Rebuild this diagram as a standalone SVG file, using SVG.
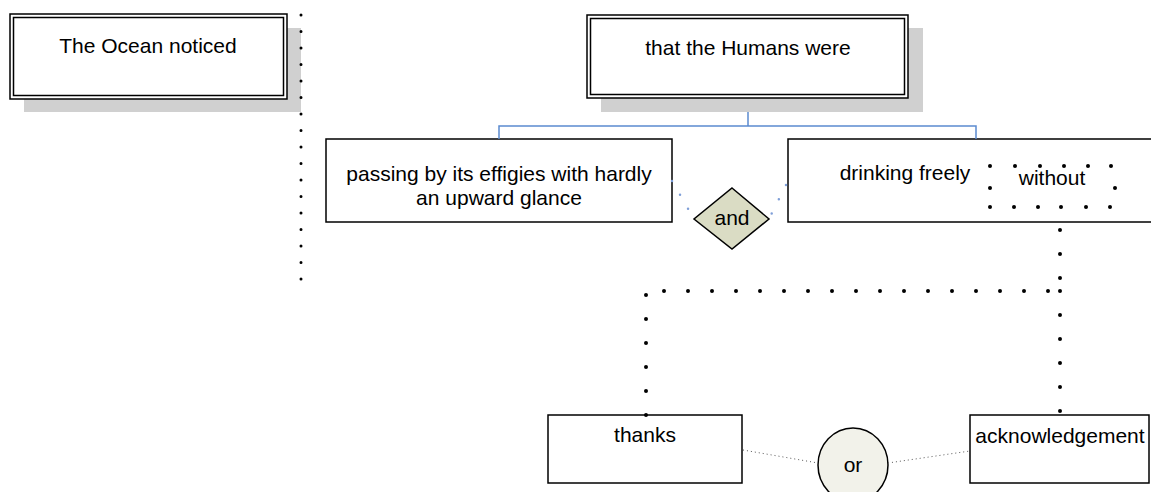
<svg xmlns="http://www.w3.org/2000/svg" width="1151" height="492" viewBox="0 0 1151 492">
<style>
text{font-family:"Liberation Sans",Arial,sans-serif;font-size:21px;fill:#000;text-anchor:middle}
.shadow{fill:#d0d0d0}
.box{fill:#fff;stroke:#000;stroke-width:1.5}
.inner{fill:none;stroke:#000;stroke-width:1.5}
.blue{fill:none;stroke:#5b8bd0;stroke-width:1.5}
.bdots{fill:none;stroke:#7f9fd8;stroke-width:2.5;stroke-linecap:round;stroke-dasharray:0 16}
.kdots{fill:none;stroke:#000;stroke-width:4;stroke-linecap:round;stroke-dasharray:0 24}
.sdots{fill:none;stroke:#000;stroke-width:3;stroke-linecap:round;stroke-dasharray:0 16.5}
.gdots{fill:none;stroke:#555;stroke-width:1;stroke-dasharray:1 3}
.dot{fill:#000}
</style>
<g id="n-ocean">
<rect class="shadow" x="24" y="28" width="277" height="84"/>
<rect class="box" x="10" y="14" width="277" height="85"/>
<rect class="inner" x="13.5" y="17.5" width="270" height="78"/>
<text x="148" y="53">The Ocean noticed</text>
</g>
<g id="n-humans">
<rect class="shadow" x="601" y="28" width="322" height="84"/>
<rect class="box" x="587" y="15" width="321" height="83"/>
<rect class="inner" x="590.5" y="18.5" width="314" height="76"/>
<text x="748" y="55">that the Humans were</text>
</g>
<g id="n-passing">
<rect class="box" x="326" y="139" width="346" height="83"/>
<text x="499" y="181">passing by its effigies with hardly</text>
<text x="499" y="205">an upward glance</text>
</g>
<g id="n-and">
<polygon points="732,188 769,219 732,249 694,219" fill="#dadcc4" stroke="#000" stroke-width="1.5"/>
<text x="732" y="225">and</text>
</g>
<g id="n-drinking">
<rect class="box" x="788" y="139" width="380" height="83"/>
<text x="905" y="180">drinking freely</text>
</g>
<g id="n-without">
<g class="dot">
<circle cx="990" cy="166" r="2"/><circle cx="1015" cy="166" r="2"/><circle cx="1040" cy="166" r="2"/><circle cx="1064" cy="166" r="2"/><circle cx="1088" cy="166" r="2"/><circle cx="1111" cy="166" r="2"/>
<circle cx="990" cy="188" r="2"/><circle cx="1115" cy="188" r="2"/>
<circle cx="990" cy="207" r="2"/><circle cx="1014" cy="207" r="2"/><circle cx="1038" cy="207" r="2"/><circle cx="1061" cy="207" r="2"/><circle cx="1086" cy="207" r="2"/><circle cx="1110" cy="207" r="2"/>
</g>
<text x="1052" y="185">without</text>
</g>
<g id="n-thanks">
<rect class="box" x="548" y="415" width="194" height="68"/>
<text x="645" y="442">thanks</text>
</g>
<g id="n-or">
<ellipse cx="853" cy="465" rx="35" ry="37" fill="#f2f2ea" stroke="#000" stroke-width="1.5"/>
<text x="853" y="472">or</text>
</g>
<g id="n-ack">
<rect class="box" x="970" y="415" width="179" height="68"/>
<text x="1060" y="443">acknowledgement</text>
</g>
<g id="connectors">
<path class="blue" d="M748 112V126M499 139V126H976V139"/>
<path class="sdots" d="M301 15V280"/>
<path class="bdots" d="M672 181L694 219"/>
<path class="bdots" d="M786 185L769 219"/>
<path class="kdots" d="M1060 230V279"/>
<path class="kdots" d="M1060 291V412"/>
<path class="kdots" d="M1048 291H663"/>
<path class="kdots" d="M646 295V416"/>
<path class="gdots" d="M743 450L818 463"/>
<path class="gdots" d="M888 463L970 451"/>
</g>
</svg>
